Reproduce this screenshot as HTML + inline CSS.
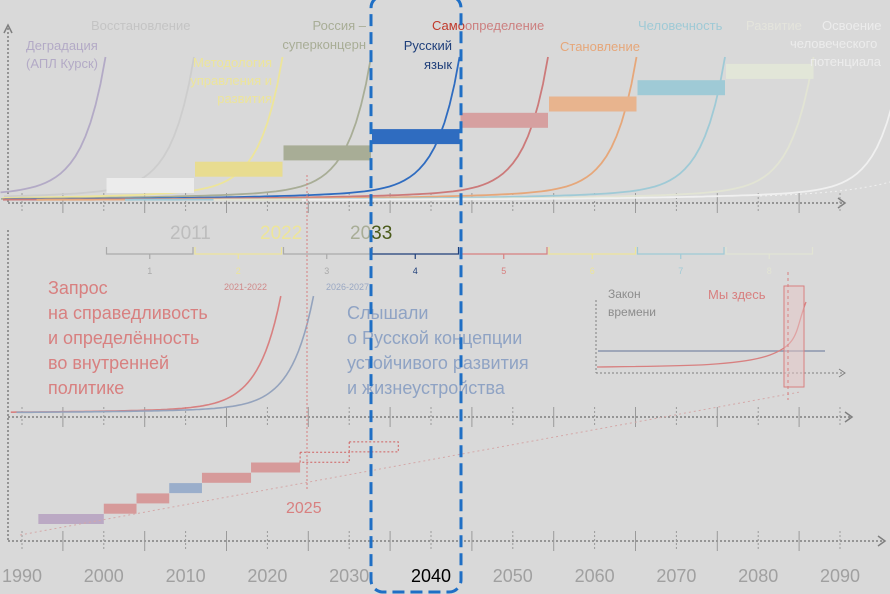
<!DOCTYPE html>
<html><head><meta charset="utf-8">
<style>
html,body{margin:0;padding:0;background:#d9d9d9;}
svg{display:block;font-family:"Liberation Sans","DejaVu Sans",sans-serif;}
</style></head>
<body>
<svg id="chart" width="890" height="594" viewBox="0 0 890 594" xmlns="http://www.w3.org/2000/svg">
<rect x="0" y="0" width="890" height="594" fill="#d9d9d9"/>
<g id="axes" stroke="#7f7f7f" stroke-width="1.5" stroke-dasharray="2,2" fill="none">
  <line x1="8" y1="28" x2="8" y2="203"/>
  <line x1="8" y1="203" x2="845" y2="203"/>
  <line x1="8" y1="417" x2="852" y2="417"/>
  <line x1="8" y1="230" x2="8" y2="541"/>
  <line x1="8" y1="541" x2="885" y2="541"/>
</g>
<g stroke="#7f7f7f" stroke-width="1.5" fill="none">
  <polyline points="4,33 8,25 12,33"/>
  <polyline points="838,198 845,203 838,208"/>
  <polyline points="845,412 852,417 845,422"/>
  <polyline points="878,536 885,541 878,546"/>
</g>
<g id="ticks"></g>
<g id="curves" fill="none"></g>
<path d="M760,196 C820,194 860,190 890,182" stroke="#f0f0f0" stroke-dasharray="2,3" fill="none"/>
<g id="bars"></g>
<g id="braces"></g>
<g id="stairs"></g>

<g font-size="13">
  <text x="26" y="50" fill="#b3aac6">Деградация</text>
  <text x="26" y="68" fill="#b3aac6">(АПЛ Курск)</text>
  <text x="91" y="30" fill="#c4c4c4">Восстановление</text>
  <text x="272" y="67" fill="#ede59a" text-anchor="end">Методология</text>
  <text x="272" y="85" fill="#ede59a" text-anchor="end">управления и</text>
  <text x="272" y="103" fill="#ede59a" text-anchor="end">развития</text>
  <text x="366" y="30" fill="#a8ad96" text-anchor="end">Россия –</text>
  <text x="366" y="49" fill="#a8ad96" text-anchor="end">суперконцерн</text>
  <text x="452" y="50" fill="#1f3f7a" text-anchor="end">Русский</text>
  <text x="452" y="69" fill="#1f3f7a" text-anchor="end">язык</text>
  <text x="432" y="30" fill="#c0392b">Само<tspan fill="#cc8080">определение</tspan></text>
  <text x="560" y="51" fill="#e6a77a">Становление</text>
  <text x="638" y="30" fill="#9fcad6">Человечность</text>
  <text x="746" y="30" fill="#e4e4dc">Развитие</text>
  <text x="822" y="30" fill="#ececec">Освоение</text>
  <text x="790" y="48" fill="#ececec">человеческого</text>
  <text x="810" y="66" fill="#ececec">потенциала</text>
</g>

<g font-size="19">
  <text x="170" y="239" fill="#bdbdbd">2011</text>
  <text x="260" y="239" fill="#ede59a">2022</text>
  <text x="350" y="239" fill="#a8ad96">20<tspan fill="#4a5a1a">33</tspan></text>
  <text x="224" y="290" font-size="9" fill="#d08a8a">2021-2022</text>
  <text x="326" y="290" font-size="9" fill="#9aa8c4">2026-2027</text>
</g>

<g font-size="18" fill="#d88080">
  <text x="48" y="294">Запрос</text>
  <text x="48" y="319">на справедливость</text>
  <text x="48" y="344">и определённость</text>
  <text x="48" y="369">во внутренней</text>
  <text x="48" y="394">политике</text>
</g>
<g font-size="18" fill="#8fa3c4">
  <text x="347" y="319">Слышали</text>
  <text x="347" y="344">о Русской концепции</text>
  <text x="347" y="369">устойчивого развития</text>
  <text x="347" y="394">и жизнеустройства</text>
</g>
<text x="286" y="513" font-size="16" fill="#d88080">2025</text>
<line x1="307" y1="175" x2="307" y2="490" stroke="#d88080" stroke-dasharray="2,2"/>
<line x1="20" y1="535" x2="800" y2="392" stroke="#d4a8a8" stroke-dasharray="2,3"/>

<g>
  <line x1="596" y1="300" x2="596" y2="373" stroke="#7f7f7f" stroke-dasharray="2,2"/>
  <line x1="596" y1="373" x2="845" y2="373" stroke="#7f7f7f" stroke-dasharray="2,2"/>
  <polyline points="839,369 845,373 839,377" stroke="#7f7f7f" fill="none"/>
  <line x1="598" y1="351" x2="825" y2="351" stroke="#8a96ad" stroke-width="1.5"/>
  <path d="M597,367 C680,366 740,366 770,355 S795,330 806,302" stroke="#d88080" stroke-width="1.3" fill="none"/>
  <rect x="784" y="286" width="20" height="101" fill="#e6c5c5" fill-opacity="0.5" stroke="#d88080"/>
  <line x1="788" y1="272" x2="788" y2="400" stroke="#d88080" stroke-dasharray="3,3"/>
  <text x="608" y="298" font-size="12" fill="#8c8c8c">Закон</text>
  <text x="608" y="316" font-size="12" fill="#8c8c8c">времени</text>
  <text x="708" y="299" font-size="13" fill="#d88080">Мы здесь</text>
</g>

<g id="yearLabels" font-size="18" fill="#a0a0a0"></g>

<rect x="371" y="-4" width="90" height="596" rx="12" fill="none" stroke="#1f6fc5" stroke-width="3" stroke-dasharray="12,6"/>

<script>
const NS='http://www.w3.org/2000/svg';
const decades=[1990,2000,2010,2020,2030,2040,2050,2060,2070,2080,2090];
const eras=[1,2,3,4,5,6,7,8,9,10];
const eraColors=['#b3aac6','#cdcdcd','#ede59a','#a8ad96','#2f6cc0','#cc7a7a','#e6a77a','#9fcad6','#e2e4d4','#f0f0f0'];
const barEras=[2,3,4,5,6,7,8,9];
const barLevels=[1,2,3,4,5,6,7,8];
const barColors=['#ececec','#e8dc90','#a8ad96','#2f6cc0','#d6a0a0','#e8b48e','#9fcad6','#e2e6d8'];
const braceLabels=['1','2','3','4','5','6','7','8'];
const braceColors=['#aaaaaa','#ede59a','#aaaaaa','#1f3f7a','#d88080','#ede59a','#9fcad6','#e2e4d4'];
const stairStart=[1992,2000,2004,2008,2012,2018,2024,2030];
const stairEnd=[2000,2004,2008,2012,2018,2024,2030,2036];
const stairLevel=[0,1,2,3,4,5,6,7];
const stairColors=['#bba9c4','#d69a9a','#d69a9a','#9aaecb','#d69a9a','#d69a9a','none','none'];
const reqCurves=[2022,2026];
const reqColors=['#d88080','#94a3bd'];

const yx=y=>22+(y-1990)*8.18;
const ex=e=>17+e*88.5;
const bL=l=>194.3-l*16.3;
function mk(tag,attrs,parent){const el=document.createElementNS(NS,tag);for(const k in attrs)el.setAttribute(k,attrs[k]);parent.appendChild(el);return el;}

const ticks=document.getElementById('ticks');
[203,417,541].forEach((yb,i)=>{
  for(let y=1990;y<=2090;y+=5){
    const t=mk('line',{x1:yx(y),x2:yx(y),y1:yb-10,y2:yb+10,stroke:'#9a9a9a','stroke-width':1,'stroke-dasharray':y%10===0?'2,2':'none'},ticks);
    
    
  }
});

const curves=document.getElementById('curves');
eras.forEach((e,i)=>{
  const xe=ex(e);let d='';
  for(let k=0;k<=120;k++){const x=xe-600+k*5;if(x<0)continue;const dx=x-xe;const y=200-130*Math.exp(dx/22)-13*Math.exp(dx/150);d+=(d?'L':'M')+x.toFixed(1)+','+y.toFixed(1);}
  const p=mk('path',{d:d,stroke:eraColors[i],'stroke-width':1.8},curves);
  
  
});

const bars=document.getElementById('bars');
barEras.forEach((e,i)=>{
  const x1=ex(e-1)+1,x2=ex(e);
  const r=mk('rect',{x:x1,y:bL(barLevels[i]),width:x2-x1,height:15,fill:barColors[i]},bars);
  
  
});

const braces=document.getElementById('braces');
braceLabels.forEach((lab,i)=>{
  const x1=ex(i+1)+1,x2=ex(i+2)-1,xm=(x1+x2)/2;
  const p=mk('path',{d:`M${x1},247 L${x1},254 L${x2},254 L${x2},247 M${xm},254 L${xm},259`,stroke:braceColors[i],fill:'none','stroke-width':1.2},braces);
  
  
  const t=mk('text',{x:xm,y:274,'text-anchor':'middle','font-size':9,fill:braceColors[i]},braces);
  t.textContent=lab;
  
  
});

reqCurves.forEach((y0,i)=>{
  const xe=yx(y0);let d='';
  for(let k=0;k<=120;k++){const x=xe-300+k*3;if(x<8)continue;const dx=x-xe;const y=413-125*Math.exp(dx/22)-8*Math.exp(dx/120);if(y<285)break;d+=(d?'L':'M')+x.toFixed(1)+','+y.toFixed(1);}
  const p=mk('path',{d:d,stroke:reqColors[i],'stroke-width':1.6,fill:'none'},curves);
  
  
});

const stairs=document.getElementById('stairs');
stairStart.forEach((s,i)=>{
  const x1=yx(s),x2=yx(stairEnd[i]);const y=514-stairLevel[i]*10.3;
  const dotted=stairColors[i]==='none';
  const r=mk('rect',{x:x1,y:y,width:x2-x1,height:10,fill:dotted?'none':stairColors[i],stroke:dotted?'#d06060':'none','stroke-dasharray':'2,2'},stairs);
  
  
});

const yl=document.getElementById('yearLabels');
decades.forEach(y=>{
  const t=mk('text',{x:yx(y),y:582,'text-anchor':'middle',fill:y===2040?'#000':'#a0a0a0'},yl);
  t.textContent=y;
  
  
});
</script>
</svg>
</body></html>
